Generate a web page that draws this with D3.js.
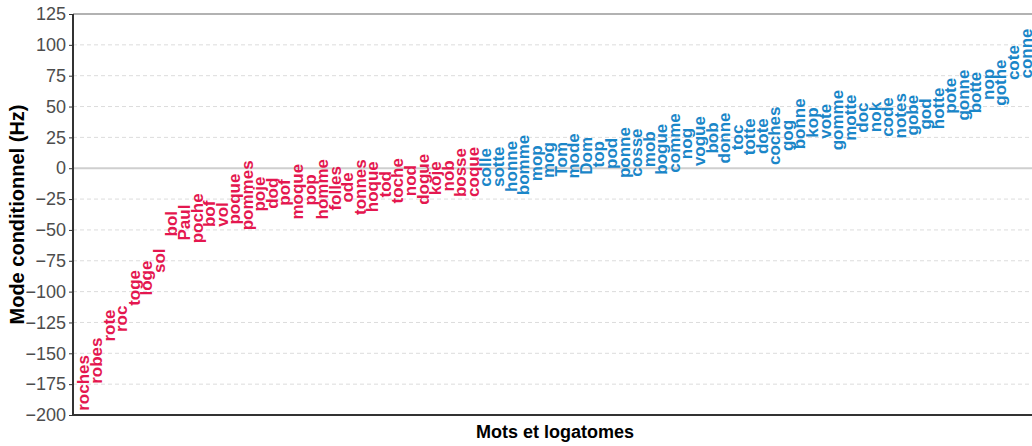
<!DOCTYPE html>
<html><head><meta charset="utf-8">
<script src="https://cdn.jsdelivr.net/npm/d3@7"></script>
<style>html,body{margin:0;padding:0;background:#fff;}svg{display:block;}</style>
</head><body>
<script>
const words = ["roches","robes","rote","roc","toge","loge","sol","bol","Paul","poche","bof","vol","poque","pommes","poje","dod","pof","moque","pop","homme","folles","ode","tonnes","hoque","tod","toche","nod","dogue","koje","nob","bosse","coque",
"colle","sotte","honne","bomme","mop","mog","Tom","mode","Dom","top","pod","ponne","cosse","mob","bogue","comme","nog","vogue","bob","donne","toc","totte","dote","coches","gog","bonne","kop","vote","gomme","motte","doc","nok","code","notes","gobe","god","hotte","pote","gonne","botte","nop","gothe","cote","conne"];
const values = [-174,-156,-127.5,-122,-97,-89,-75,-45,-44,-40.6,-37,-37.5,-25,-22,-21,-20.3,-19.7,-19,-17.5,-17,-16.3,-15.6,-15.3,-15,-13,-10.2,-10,-9,-8.2,-6.2,-3.5,-3,
0.6,1.2,1.5,2.6,4,6.6,7.3,10,10,11.3,12,12.7,12.7,15.4,15.4,20.5,20,22,24.5,24.5,25,25.5,26,26.3,26.5,36,37,38,39,41,41,41.5,41.5,42.5,43,44,48.5,58.7,59.3,61.3,68,69.4,85.6,93];
const yTicks = [125,100,75,50,25,0,-25,-50,-75,-100,-125,-150,-175,-200];
const yTitle = "Mode conditionnel (Hz)";
const xTitle = "Mots et logatomes";
const colNeg = "#e4174f", colPos = "#1a86c8";

const W = 1032, H = 446;
const L = 73, R = 1037, T = 14, B = 415;
const svg = d3.select("body").append("svg").attr("width", W).attr("height", H);
const x = d3.scalePoint().domain(words).range([L, R]).padding(0.875);
const y = d3.scaleLinear().domain([-200, 125]).range([B, T]);

// grid
svg.append("g").selectAll("line").data(yTicks.filter(d => d !== 0 && d !== 125 && d !== -200)).join("line")
  .attr("x1", L).attr("x2", R).attr("y1", d => y(d)).attr("y2", d => y(d))
  .attr("stroke", "#dcdcdc").attr("stroke-width", 1).attr("stroke-dasharray", "4,3");
svg.append("line").attr("x1", L).attr("x2", R).attr("y1", y(0)).attr("y2", y(0))
  .attr("stroke", "#cfcfcf").attr("stroke-width", 2);
// top border
svg.append("line").attr("x1", L).attr("x2", R).attr("y1", T).attr("y2", T)
  .attr("stroke", "#999").attr("stroke-width", 1.5);

// words
svg.append("g").selectAll("text").data(words).join("text")
  .attr("transform", (d, i) => `translate(${x(d)},${y(values[i])}) rotate(-90)`)
  .attr("text-anchor", "middle").attr("dominant-baseline", "central")
  .attr("font-family", "Liberation Sans, Arial, sans-serif").attr("font-weight", "bold")
  .attr("font-size", 17)
  .attr("fill", (d, i) => values[i] < 0 ? colNeg : colPos)
  .text(d => d);

// y axis
const ya = svg.append("g").attr("transform", `translate(${L},0)`)
  .call(d3.axisLeft(y).tickValues(yTicks).tickSize(4).tickPadding(3).tickFormat(d3.format("d")));
ya.select(".domain").remove();
ya.selectAll(".tick line").attr("stroke", "#333");
ya.selectAll(".tick text").attr("font-family", "Liberation Sans, Arial, sans-serif").attr("font-size", 18).attr("fill", "#4d4d4d");
svg.append("line").attr("x1", L).attr("x2", L).attr("y1", T).attr("y2", B + 1).attr("stroke", "#333").attr("stroke-width", 2);
svg.append("line").attr("x1", L).attr("x2", R).attr("y1", B).attr("y2", B).attr("stroke", "#333").attr("stroke-width", 2);

// titles
svg.append("text").attr("transform", `translate(24,${(T + B) / 2}) rotate(-90)`)
  .attr("text-anchor", "middle").attr("font-family", "Liberation Sans, Arial, sans-serif")
  .attr("font-weight", "bold").attr("font-size", 20).attr("fill", "#000").text(yTitle);
svg.append("text").attr("x", (L + R) / 2).attr("y", 438)
  .attr("text-anchor", "middle").attr("font-family", "Liberation Sans, Arial, sans-serif")
  .attr("font-weight", "bold").attr("font-size", 18).attr("fill", "#000").text(xTitle);
</script>
</body></html>
